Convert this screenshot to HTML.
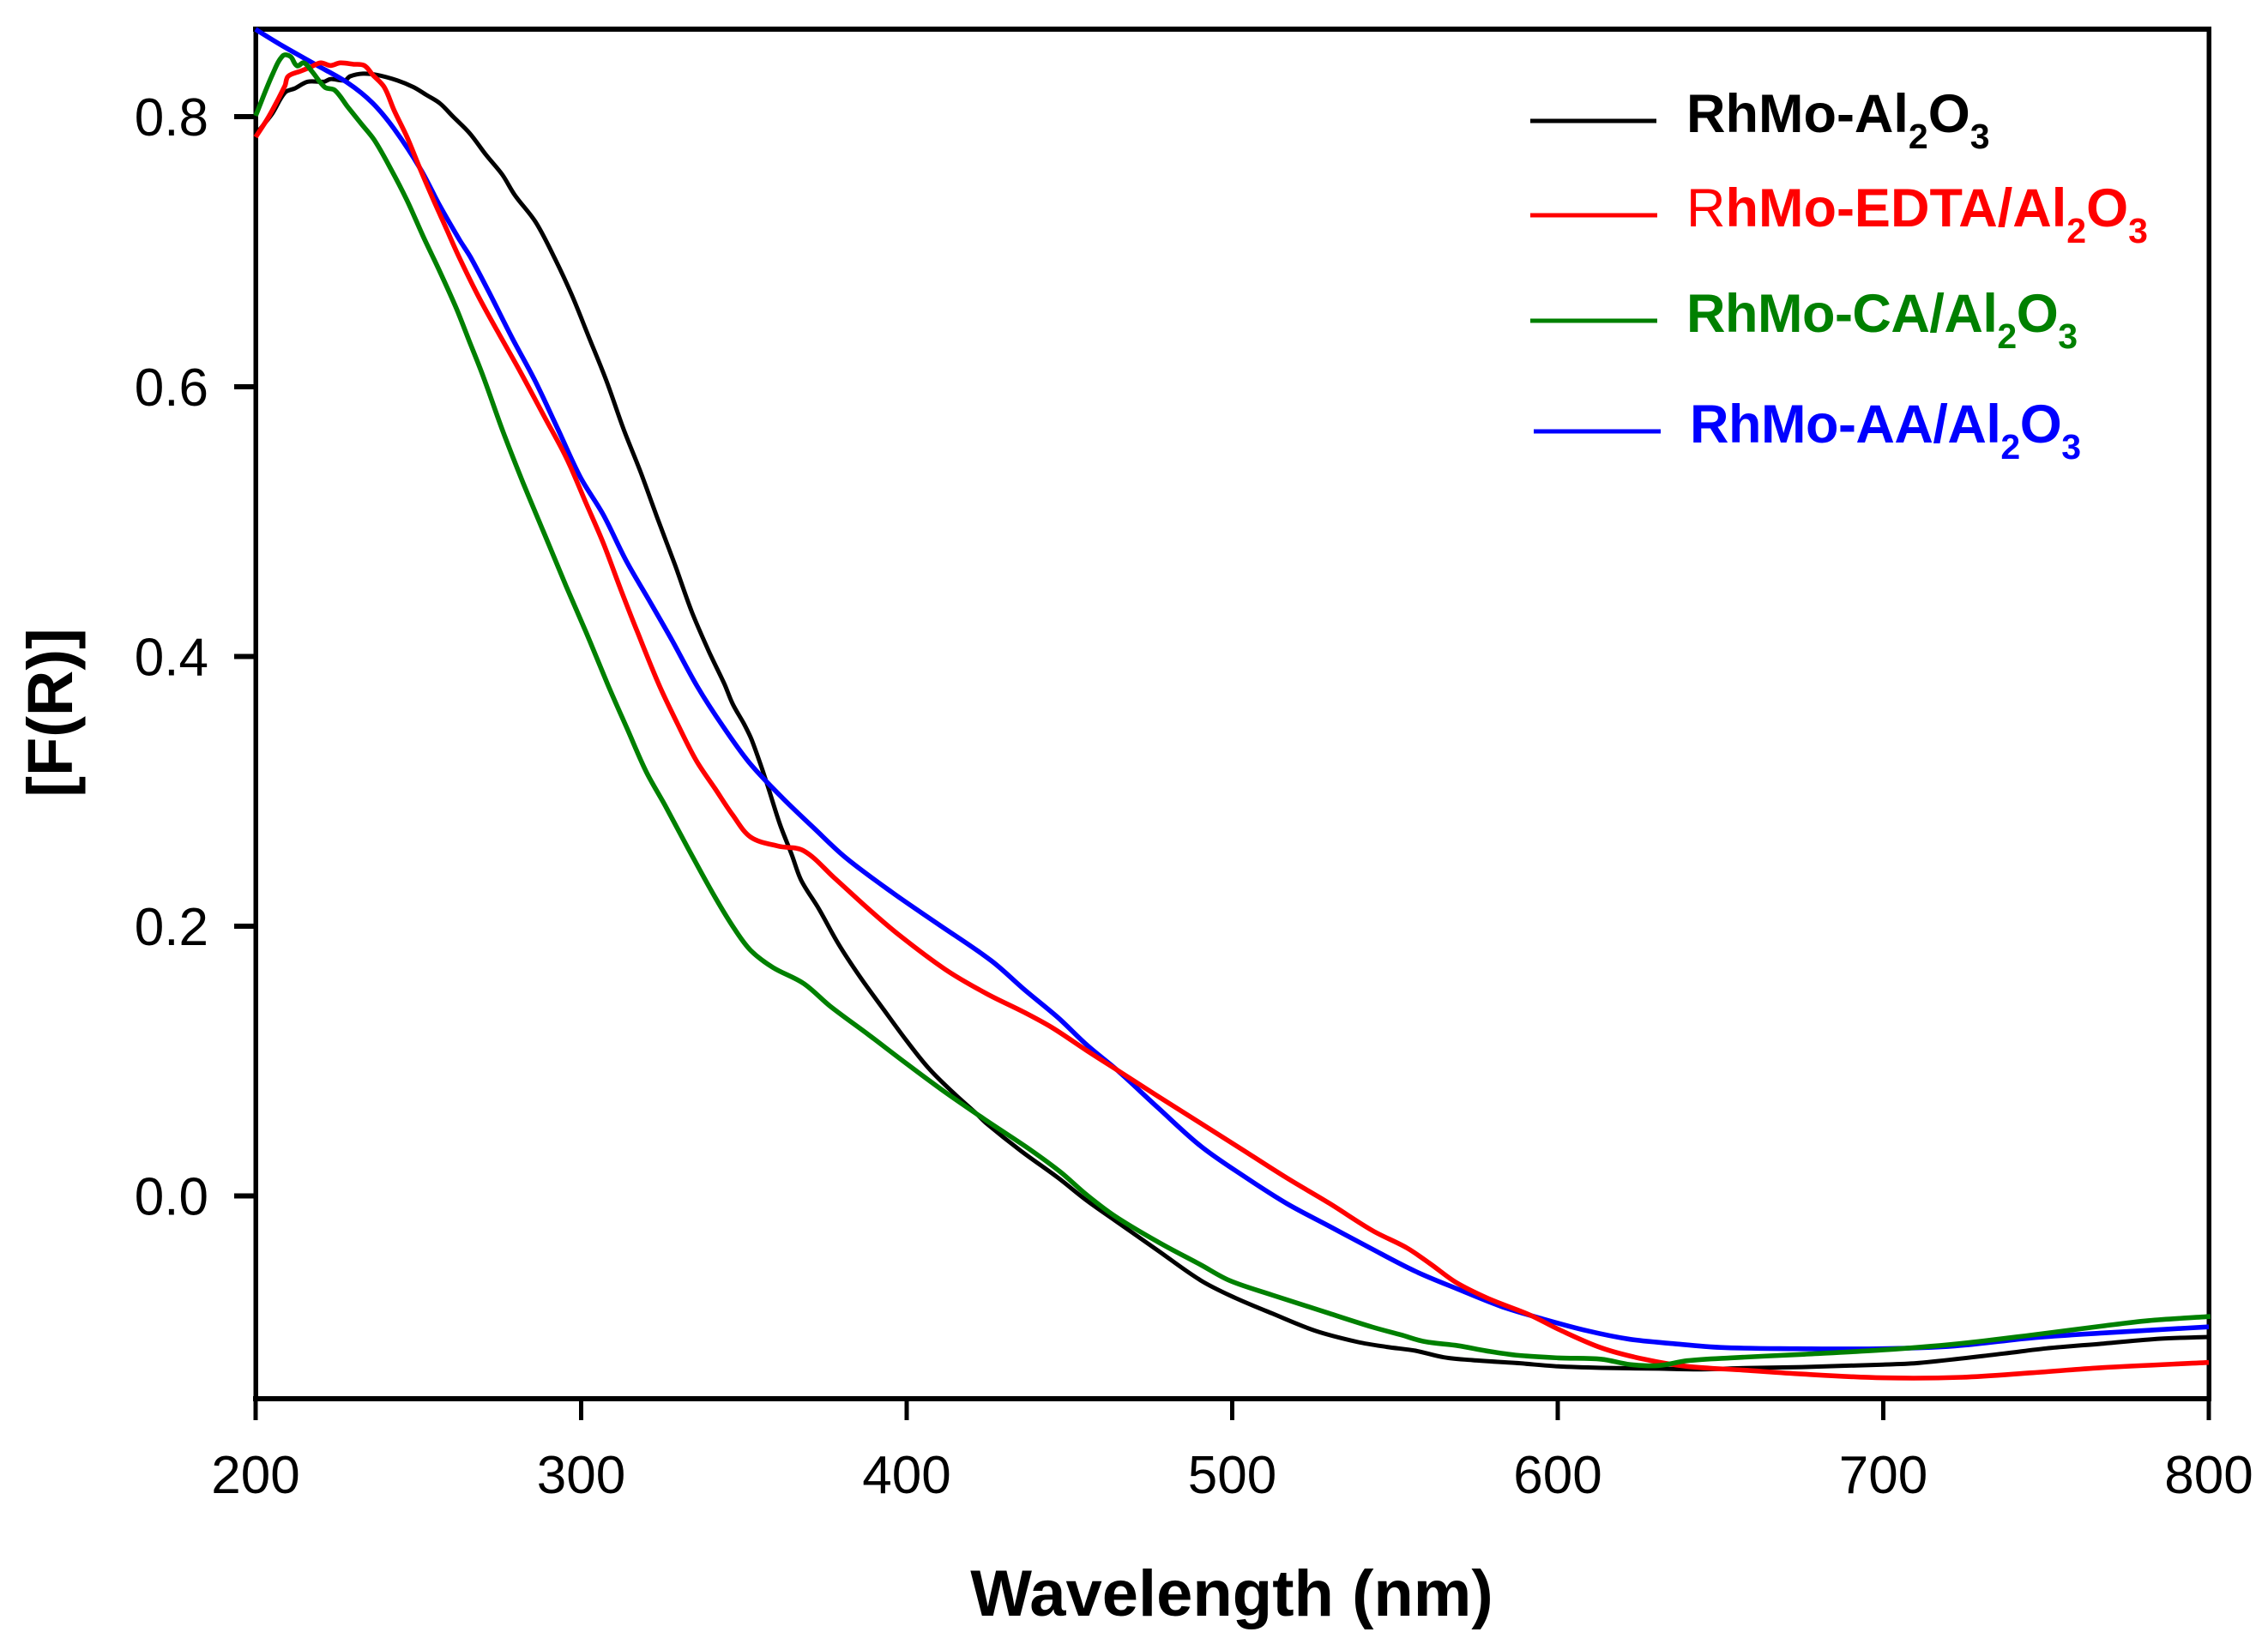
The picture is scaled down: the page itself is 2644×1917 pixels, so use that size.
<!DOCTYPE html>
<html lang="en">
<head>
<meta charset="utf-8">
<title>RhMo catalysts F(R) spectra</title>
<style>
html,body{margin:0;padding:0;background:#fff;}
svg{display:block;}
text{font-family:"Liberation Sans",Arial,sans-serif;}
</style>
</head>
<body>
<svg id="chart" xmlns="http://www.w3.org/2000/svg" width="2644" height="1917" viewBox="0 0 2644 1917">
  <rect x="0" y="0" width="2644" height="1917" fill="#ffffff"/>
  <g id="axes"></g>
  <g id="series"></g>
  <text x="1436" y="1884" font-size="76" font-weight="700" text-anchor="middle" fill="#000">Wavelength (nm)</text>
  <text transform="translate(84 831) rotate(-90)" font-size="74" font-weight="700" text-anchor="middle" fill="#000">[F(R)]</text>
  <g>
    <g>
      <line x1="1784" y1="141" x2="1931" y2="141" stroke="#000000" stroke-width="5" shape-rendering="crispEdges"/>
      <text x="1966" y="154" font-size="63" font-weight="700" fill="#000000">RhMo-Al<tspan font-size="41" dy="19">2</tspan><tspan dy="-19">O</tspan><tspan font-size="41" dy="19">3</tspan></text>
    </g>
    <g>
      <line x1="1784" y1="251" x2="1932" y2="251" stroke="#ff0000" stroke-width="5" shape-rendering="crispEdges"/>
      <text x="1966" y="264" font-size="63" font-weight="700" fill="#ff0000"><tspan font-weight="400">R</tspan>hMo-EDTA/Al<tspan font-size="41" dy="19">2</tspan><tspan dy="-19">O</tspan><tspan font-size="41" dy="19">3</tspan></text>
    </g>
    <g>
      <line x1="1784" y1="374" x2="1932" y2="374" stroke="#008000" stroke-width="5" shape-rendering="crispEdges"/>
      <text x="1966" y="387" font-size="63" font-weight="700" fill="#008000" letter-spacing="-0.5">RhMo-CA/Al<tspan font-size="41" dy="19">2</tspan><tspan dy="-19">O</tspan><tspan font-size="41" dy="19">3</tspan></text>
    </g>
    <g>
      <line x1="1788" y1="503" x2="1936" y2="503" stroke="#0000ff" stroke-width="5" shape-rendering="crispEdges"/>
      <text x="1970" y="516" font-size="63" font-weight="700" fill="#0000ff" letter-spacing="-0.5">RhMo-AA/Al<tspan font-size="41" dy="19">2</tspan><tspan dy="-19">O</tspan><tspan font-size="41" dy="19">3</tspan></text>
    </g>
  </g>
</svg>
<script>
const xTickValues = [200, 300, 400, 500, 600, 700, 800];
const xTickLabels = ["200", "300", "400", "500", "600", "700", "800"];
const yTickValues = [0, 0.2, 0.4, 0.6, 0.8];
const yTickLabels = ["0.0", "0.2", "0.4", "0.6", "0.8"];

const blackWavelengths = [200,205,209,212,216,221,223,227.4,229,233,237.4,243.5,248.5,252.6,256.6,260.7,265.7,270.7,275.8,279.6,286,291.9,297.1,302.4,307.7,313,318.2,323.5,328.8,334,339.3,344.1,346.5,350,352.4,356.5,361,364.7,367.6,373,379,385.8,393,400,407,415,421,424.5,435,446.5,455.3,464,477.2,490.4,500.9,512.3,525.5,538.7,547.5,556.3,565,573.8,587,600.2,613.4,631,644.1,657.3,675,700,711,737,750,767.6,785,800];
const blackValues = [.787,.802,.818,.821,.826,.826,.828,.827,.83,.832,.831,.827,.822,.816,.81,.8,.788,.772,.757,.742,.722,.695,.668,.6365,.6047,.5687,.537,.502,.468,.433,.4034,.379,.365,.35,.338,.31,.276,.253,.234,.213,.187,.162,.138,.115,.094,.075,.062,.0538,.0336,.0135,-.0034,-.0182,-.0405,-.0627,-.0755,-.0871,-.0999,-.1083,-.1119,-.1147,-.1196,-.1217,-.1238,-.1263,-.1274,-.128,-.1285,-.1276,-.1268,-.125,-.1238,-.1168,-.113,-.1094,-.1058,-.1045];

const redWavelengths = [200,204,209,210,214,217,220,223,226,230,233.4,236,239.5,242.5,246.5,250.6,254.7,258.6,262.5,268.2,274.3,281.3,288.4,295.4,301.5,306.8,312.1,317.3,323.9,329.5,335.3,341.2,346.5,352.1,360.6,368.3,377.7,388.3,397.6,411.8,424.5,435.9,444.7,455.3,464.9,477.2,490.4,503.6,516.7,529.9,543.1,553.6,560.7,568.6,578.2,591.4,600.2,613.4,626.5,639.7,657.3,675,699.8,724.2,745.9,767.5,800];
const redValues = [.785,.8,.823,.83,.834,.837,.84,.838,.84,.839,.838,.831,.822,.805,.785,.761,.738,.717,.696,.668,.641,.611,.579,.5475,.5136,.484,.45,.418,.379,.3505,.323,.3017,.2826,.266,.2593,.256,.236,.2127,.1936,.168,.15,.1364,.1248,.1078,.093,.0739,.0538,.0336,.0135,-.0055,-.0257,-.0384,-.05,-.0638,-.0755,-.0882,-.0988,-.1126,-.121,-.1263,-.1291,-.132,-.1348,-.1344,-.131,-.1272,-.1234];

const greenWavelengths = [200,205.2,208.4,210.7,212.7,214.8,217.3,221.3,224.3,228.4,232.4,236.4,241.5,246.5,251.6,256.6,261.7,265.7,270,276,282.2,289.2,295.4,301.5,308.2,314.2,320,325.9,333,341.2,347.1,352.1,358.9,368.3,376.5,388.3,400,411.8,424.5,437.7,447.3,455.3,464,477.2,490.4,499.2,512.3,529.9,543.1,551.9,559,569.4,578.2,587,600.2,613.4,622.2,631,639.7,652.9,675,699.8,722,745.9,767.5,781.5,800.5];
const greenValues = [.8007,.8315,.8453,.8447,.8378,.84,.8336,.8219,.8198,.807,.795,.783,.7615,.738,.7107,.6852,.6577,.6333,.607,.5666,.5285,.488,.452,.418,.379,.346,.3144,.289,.257,.2212,.198,.182,.1694,.1576,.1407,.1195,.098,.077,.0559,.0347,.0177,.0008,-.015,-.0341,-.0511,-.0627,-.0734,-.0871,-.0972,-.103,-.1079,-.111,-.1149,-.1179,-.12,-.121,-.1249,-.1257,-.1221,-.12,-.1174,-.1141,-.1098,-.103,-.0963,-.0924,-.0893];

const blueWavelengths = [200,201,208.2,218.3,228.4,235.9,242.5,250.6,256.6,262.7,266,271.7,278.7,285.7,292.8,299.8,306.8,313.8,320.9,327.9,335.6,343.6,351.8,361.2,371.8,381.2,395.3,409.4,425.9,435.9,446.5,455.3,464.8,477.2,490.4,503.6,516.7,529.9,543.1,556.3,569.4,582.6,595.8,609,622.2,635.3,650,673.4,699.8,722,745.9,767.5,800];
const blueValues = [.865,.8633,.8527,.8389,.825,.8103,.7912,.7615,.734,.7086,.696,.67,.6365,.605,.5687,.5327,.505,.471,.4415,.412,.378,.348,.3208,.2966,.272,.2509,.2254,.202,.1746,.1535,.1322,.112,.093,.0654,.0368,.0146,-.0055,-.0225,-.0395,-.0559,-.0691,-.0818,-.0914,-.0999,-.1062,-.1094,-.1123,-.1132,-.1132,-.1111,-.1051,-.1015,-.097];

const blackSeriesColor = "#000000";
const blueSeriesColor = "#0000ff";
const redSeriesColor = "#ff0000";
const greenSeriesColor = "#008000";

const SVG_NS = "http://www.w3.org/2000/svg";
const plotLeft = 298, plotRight = 2575, plotTop = 34, plotBottom = 1631;
const xMin = 200, xMax = 800, yZeroPx = 1394.6, yPxPerUnit = 1573;
function xScale(v) { return plotLeft + (v - xMin) * (plotRight - plotLeft) / (xMax - xMin); }
function yScale(v) { return yZeroPx - v * yPxPerUnit; }

const axes = document.getElementById("axes");
const seriesGroup = document.getElementById("series");

function makeLine(x1, y1, x2, y2, w) {
  const l = document.createElementNS(SVG_NS, "line");
  l.setAttribute("x1", x1);
  l.setAttribute("y1", y1);
  l.setAttribute("x2", x2);
  l.setAttribute("y2", y2);
  l.setAttribute("stroke", "#000");
  l.setAttribute("stroke-width", w);
  l.setAttribute("shape-rendering", "crispEdges");
  return l;
}

const frameTop = makeLine(plotLeft - 3, plotTop, plotRight + 3, plotTop, 6);


axes.appendChild(frameTop);
const frameRight = makeLine(plotRight, plotTop, plotRight, plotBottom, 5.5);


axes.appendChild(frameRight);
const xAxisLine = makeLine(plotLeft - 3, plotBottom, plotRight + 3, plotBottom, 6);


axes.appendChild(xAxisLine);
const yAxisLine = makeLine(plotLeft, plotTop, plotLeft, plotBottom, 5.5);


axes.appendChild(yAxisLine);

xTickValues.forEach(function (v, i) {
  const px = xScale(v);
  const tick = makeLine(px, plotBottom - 3, px, plotBottom + 25, 5);
  
  
  axes.appendChild(tick);
  const label = document.createElementNS(SVG_NS, "text");
  label.setAttribute("x", px);
  label.setAttribute("y", 1741);
  label.setAttribute("font-size", "62");
  label.setAttribute("text-anchor", "middle");
  label.setAttribute("fill", "#000");
  label.textContent = xTickLabels[i];
  
  
  axes.appendChild(label);
});

yTickValues.forEach(function (v, i) {
  const py = yScale(v);
  const tick = makeLine(plotLeft - 25, py, plotLeft, py, 6);
  
  
  axes.appendChild(tick);
  const label = document.createElementNS(SVG_NS, "text");
  label.setAttribute("x", 243);
  label.setAttribute("y", py + 22);
  label.setAttribute("font-size", "62");
  label.setAttribute("text-anchor", "end");
  label.setAttribute("fill", "#000");
  label.textContent = yTickLabels[i];
  
  
  axes.appendChild(label);
});

function smoothPath(px, py) {
  let d = "M" + px[0].toFixed(1) + " " + py[0].toFixed(1);
  function tangent(i) {
    const a = Math.max(i - 1, 0), b = Math.min(i + 1, px.length - 1);
    const dx = px[b] - px[a], dy = py[b] - py[a];
    const len = Math.hypot(dx, dy) || 1;
    return [dx / len, dy / len];
  }
  for (let i = 0; i < px.length - 1; i++) {
    const seg = Math.hypot(px[i + 1] - px[i], py[i + 1] - py[i]) / 3;
    const t0 = tangent(i), t1 = tangent(i + 1);
    d += "C" + (px[i] + t0[0] * seg).toFixed(1) + " " + (py[i] + t0[1] * seg).toFixed(1) +
         " " + (px[i + 1] - t1[0] * seg).toFixed(1) + " " + (py[i + 1] - t1[1] * seg).toFixed(1) +
         " " + px[i + 1].toFixed(1) + " " + py[i + 1].toFixed(1);
  }
  return d;
}

function drawSeries(name, xs, ys, color, width) {
  const p = document.createElementNS(SVG_NS, "path");
  p.setAttribute("d", smoothPath(xs.map(xScale), ys.map(yScale)));
  p.setAttribute("fill", "none");
  p.setAttribute("stroke", color);
  p.setAttribute("stroke-width", width);
  p.setAttribute("stroke-linejoin", "round");
  
  
  seriesGroup.appendChild(p);
}

drawSeries("series-rhmo-al2o3", blackWavelengths, blackValues, blackSeriesColor, 5);
drawSeries("series-rhmo-aa", blueWavelengths, blueValues, blueSeriesColor, 5.6);
drawSeries("series-rhmo-edta", redWavelengths, redValues, redSeriesColor, 5.6);
drawSeries("series-rhmo-ca", greenWavelengths, greenValues, greenSeriesColor, 5.6);
</script>
</body>
</html>
